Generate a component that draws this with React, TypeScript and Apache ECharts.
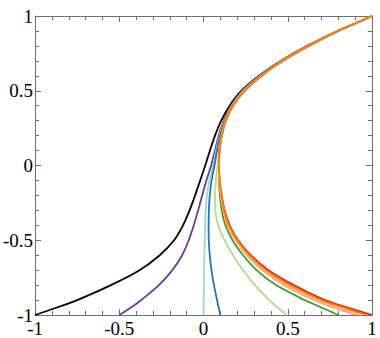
import React, { useEffect, useRef } from "react";
import * as echarts from "echarts";

// Common y samples (curves are drawn as x = f(y), ordered from top to bottom)
const yValues = [1, 0.95, 0.9, 0.8, 0.7, 0.6, 0.5, 0.4, 0.3, 0.2, 0.1, 0, -0.1, -0.2, -0.3, -0.4, -0.5, -0.6, -0.7, -0.8, -0.9, -0.95, -1];

const blackX = [1, 0.9, 0.795, 0.615, 0.46, 0.33, 0.225, 0.155, 0.105, 0.068, 0.038, 0.01, -0.02, -0.05, -0.083, -0.122, -0.175, -0.26, -0.38, -0.55, -0.75, -0.87, -1];
const purpleX = [1, 0.9, 0.797, 0.618, 0.462, 0.335, 0.23, 0.163, 0.12, 0.09, 0.068, 0.045, 0.017, -0.008, -0.032, -0.058, -0.088, -0.127, -0.185, -0.265, -0.37, -0.43, -0.5];
const lightBlueX = [1, 0.9, 0.798, 0.62, 0.465, 0.338, 0.235, 0.168, 0.125, 0.095, 0.075, 0.058, 0.035, 0.02, 0.013, 0.009, 0.007, 0.005, 0.003, 0.002, 0.001, 0.0005, 0];
const blueX = [1, 0.9, 0.798, 0.62, 0.465, 0.338, 0.236, 0.169, 0.127, 0.098, 0.08, 0.065, 0.048, 0.037, 0.032, 0.03, 0.031, 0.037, 0.047, 0.062, 0.08, 0.09, 0.1];
const lightGreenX = [1, 0.9, 0.8, 0.622, 0.467, 0.34, 0.238, 0.17, 0.13, 0.105, 0.092, 0.083, 0.074, 0.068, 0.07, 0.087, 0.125, 0.175, 0.235, 0.305, 0.39, 0.44, 0.495];
const greenX = [1, 0.9, 0.8, 0.624, 0.469, 0.343, 0.243, 0.173, 0.13, 0.105, 0.094, 0.092, 0.092, 0.097, 0.108, 0.13, 0.172, 0.235, 0.315, 0.43, 0.6, 0.7, 0.8];
const pinkX = [1, 0.9, 0.8, 0.625, 0.47, 0.345, 0.245, 0.175, 0.132, 0.108, 0.095, 0.092, 0.093, 0.102, 0.117, 0.142, 0.19, 0.257, 0.348, 0.478, 0.655, 0.77, 0.9];
const redX = [1, 0.9, 0.8, 0.625, 0.47, 0.345, 0.245, 0.175, 0.132, 0.108, 0.095, 0.092, 0.096, 0.108, 0.125, 0.155, 0.205, 0.28, 0.385, 0.535, 0.72, 0.855, 1];
const lightOrangeX = [1, 0.9, 0.8, 0.625, 0.47, 0.345, 0.245, 0.175, 0.132, 0.108, 0.095, 0.092, 0.094, 0.104, 0.12, 0.146, 0.195, 0.265, 0.36, 0.497, 0.675, 0.8, 0.94];
const orangeX = [1, 0.9, 0.8, 0.625, 0.47, 0.345, 0.245, 0.175, 0.132, 0.108, 0.095, 0.092, 0.095, 0.106, 0.122, 0.15, 0.2, 0.272, 0.372, 0.515, 0.7, 0.83, 0.97];

const seriesDefs = [
  { name: "black", color: "#000000", xs: blackX },
  { name: "purple", color: "#6a3d9a", xs: purpleX },
  { name: "lightblue", color: "#a6cee3", xs: lightBlueX },
  { name: "blue", color: "#1f78b4", xs: blueX },
  { name: "lightgreen", color: "#b2df8a", xs: lightGreenX },
  { name: "green", color: "#33a02c", xs: greenX },
  { name: "pink", color: "#fb9a99", xs: pinkX },
  { name: "red", color: "#e31a1c", xs: redX },
  { name: "lightorange", color: "#fdbf6f", xs: lightOrangeX },
  { name: "orange", color: "#ff7f00", xs: orangeX },
];

const axisColor = "#6e6e6e";
const labelFont = { fontFamily: "Liberation Serif", fontSize: 19, color: "#000" };

export default function App() {
  const ref = useRef<HTMLDivElement>(null);
  useEffect(() => {
    document.body.style.margin = "0";
    const chart = echarts.init(ref.current!, null, { renderer: "svg" });
    const baseAxis = {
      type: "value",
      min: -1,
      max: 1,
      interval: 0.5,
      splitLine: { show: false },
      axisLine: { show: true, onZero: false, lineStyle: { color: axisColor, width: 1 } },
      axisTick: { show: true, inside: true, length: 6, lineStyle: { color: axisColor } },
      minorTick: { show: true, splitNumber: 5, length: 4, lineStyle: { color: axisColor } },
    };
    chart.setOption({
      animation: false,
      grid: { left: 34, right: 8, top: 16, bottom: 21, containLabel: false },
      xAxis: [
        {
          ...baseAxis,
          position: "bottom",
          axisLabel: { ...labelFont, margin: 4, formatter: (v: number) => String(v) },
        },
        { ...baseAxis, position: "top", axisLabel: { show: false } },
      ],
      yAxis: [
        {
          ...baseAxis,
          position: "left",
          axisLabel: { ...labelFont, margin: 2, formatter: (v: number) => String(v) },
        },
        { ...baseAxis, position: "right", axisLabel: { show: false } },
      ],
      series: seriesDefs.map((s) => ({
        name: s.name,
        type: "line",
        xAxisIndex: 0,
        yAxisIndex: 0,
        showSymbol: false,
        symbol: "none",
        smooth: 0.3,
        lineStyle: { color: s.color, width: 1.8 },
        data: s.xs.map((x, i) => [x, yValues[i]]),
      })),
    });
    return () => chart.dispose();
  }, []);
  return <div ref={ref} style={{ width: 380, height: 338 }} />;
}
